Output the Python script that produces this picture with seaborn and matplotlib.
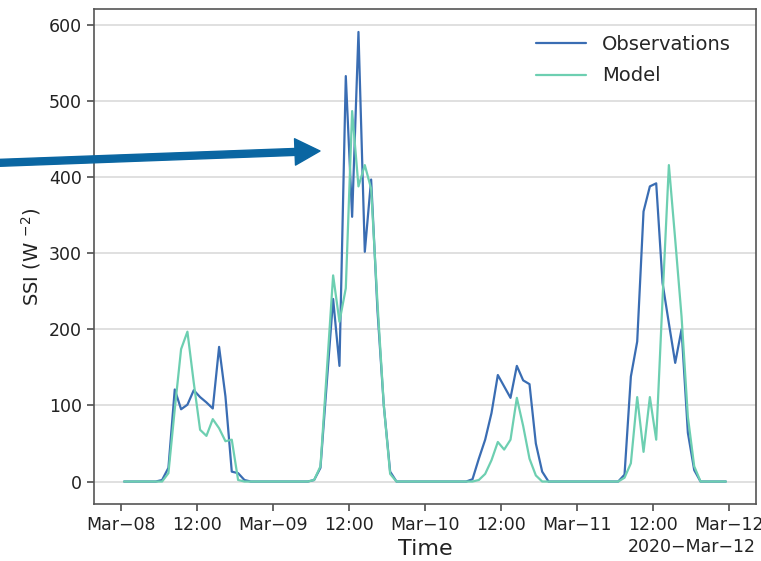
import matplotlib
matplotlib.use("Agg")
import matplotlib.pyplot as plt
import matplotlib.dates as mdates
import pandas as pd
import seaborn as sns

# hourly values (time stamps at hh:30), one list per day
obs_mar08 = [0, 0, 0, 0, 0, 0, 2, 18, 121, 95, 101, 120, 111, 104, 96, 177, 112, 13, 11, 2, 0, 0, 0, 0]
obs_mar09 = [0, 0, 0, 0, 0, 0, 2, 18, 130, 240, 152, 533, 348, 591, 302, 397, 225, 100, 13, 0, 0, 0, 0, 0]
obs_mar10 = [0, 0, 0, 0, 0, 0, 0, 3, 30, 55, 90, 140, 125, 110, 152, 133, 128, 50, 13, 0, 0, 0, 0, 0]
obs_mar11 = [0, 0, 0, 0, 0, 0, 0, 9, 138, 184, 355, 388, 392, 261, 208, 156, 200, 64, 15, 0, 0, 0, 0, 0]

mod_mar08 = [0, 0, 0, 0, 0, 0, 0, 11, 95, 174, 197, 130, 68, 60, 82, 70, 53, 55, 2, 0, 0, 0, 0, 0]
mod_mar09 = [0, 0, 0, 0, 0, 0, 2, 20, 145, 271, 210, 254, 487, 388, 416, 385, 235, 100, 10, 0, 0, 0, 0, 0]
mod_mar10 = [0, 0, 0, 0, 0, 0, 0, 0, 2, 10, 28, 52, 42, 55, 110, 73, 30, 8, 0, 0, 0, 0, 0, 0]
mod_mar11 = [0, 0, 0, 0, 0, 0, 0, 5, 24, 111, 39, 111, 55, 240, 416, 318, 217, 85, 20, 0, 0, 0, 0, 0]

observations = obs_mar08 + obs_mar09 + obs_mar10 + obs_mar11
model = mod_mar08 + mod_mar09 + mod_mar10 + mod_mar11
times = pd.date_range("2020-03-08 00:30", periods=len(observations), freq="h")

df = pd.DataFrame({"time": times, "Observations": observations, "Model": model})

sns.set_theme(style="ticks")
plt.rcParams["font.family"] = ["DejaVu Sans"]

fig = plt.figure(figsize=(7.61, 5.61), dpi=100)
ax = fig.add_axes([0.1235, 0.1016, 0.8699, 0.8815])

sns.lineplot(data=df, x="time", y="Observations", color="#3a6db3", linewidth=1.6, label="Observations", ax=ax)
sns.lineplot(data=df, x="time", y="Model", color="#6dcfb1", linewidth=1.6, label="Model", ax=ax)

ax.yaxis.grid(True, color="#dddddd", linewidth=1.3)
ax.set_axisbelow(True)
ax.set_yticks([0, 100, 200, 300, 400, 500, 600])

locator = mdates.HourLocator(byhour=[0, 12])
formatter = mdates.ConciseDateFormatter(
    locator,
    zero_formats=["", "%Y", "%b", "%b\u2212%d", "%H:%M", "%H:%M"],
    offset_formats=["", "%Y", "%Y\u2212%b", "%Y\u2212%b\u2212%d", "%Y\u2212%b\u2212%d", "%Y\u2212%b\u2212%d %H:%M"],
)
ax.xaxis.set_major_locator(locator)
ax.xaxis.set_major_formatter(formatter)

for side in ["left", "bottom", "top", "right"]:
    ax.spines[side].set_color("#555555")
    ax.spines[side].set_linewidth(1.2)
ax.tick_params(axis="both", labelsize=12.5, length=5, color="#555555", labelcolor="#222222")
ax.xaxis.get_offset_text().set_fontsize(12.5)

ax.set_xlabel("Time", fontsize=16, color="#222222")
ax.set_ylabel(r"SSI (W $^{-2}$)", fontsize=14, color="#222222")

ax.legend(loc="upper right", frameon=True, facecolor="white", edgecolor="white",
          framealpha=1, fontsize=14, handlelength=2.6, labelspacing=0.65,
          borderaxespad=0.9)

# arrow pointing at the big peak
ax.annotate("", xy=(320, 410), xycoords="figure pixels",
            xytext=(-5, 398), textcoords="figure pixels",
            arrowprops=dict(color="#0a66a2", width=5, headwidth=19, headlength=18, shrink=0),
            annotation_clip=False)

plt.savefig("out.png", dpi=100)
